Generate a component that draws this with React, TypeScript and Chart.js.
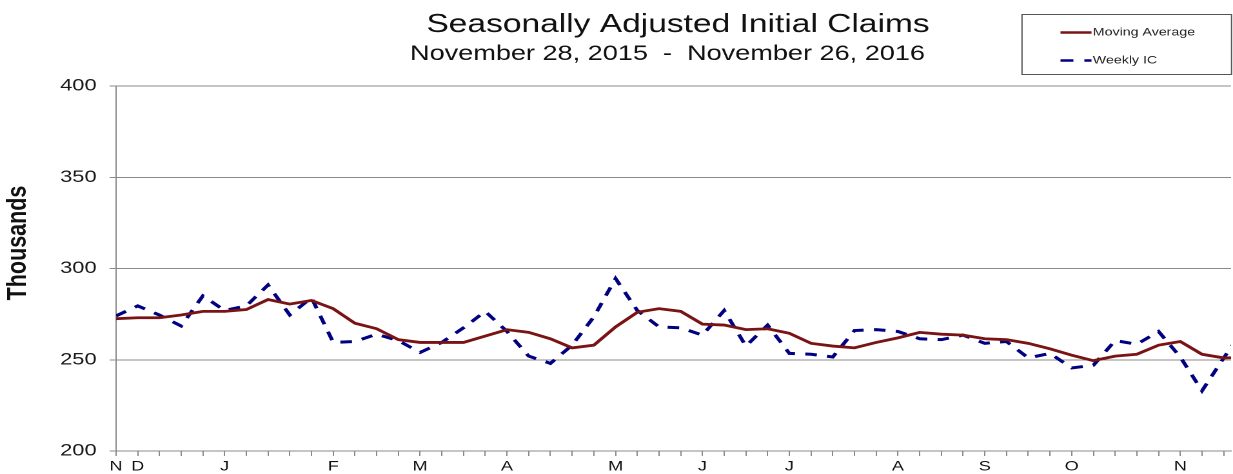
import { useEffect, useRef } from 'react';
import { Chart, registerables } from 'chart.js';

Chart.register(...registerables);

// ---- data (weeks from Nov 28, 2015 to Nov 26, 2016, thousands) ----
const WEEK_COUNT = 53;
const MOVING_AVERAGE = [
  272.5, 273, 273, 274.5, 276.5, 276.5, 277.5, 283, 280.5, 282.5,
  278, 270, 267, 261, 259.5, 259.5, 259.5, 263, 266.5, 265,
  261.5, 256.5, 258, 268, 276, 278, 276.5, 269.5, 269, 266.5,
  267, 264.5, 259, 257.5, 256.5, 259.5, 262, 265, 264, 263.5,
  261.5, 261, 259, 256, 252.5, 249.5, 252, 253, 258, 260,
  253, 251, 251.25,
];
const WEEKLY_IC = [
  274, 279.5, 274.5, 268.5, 285, 277, 279.5, 291, 274.5, 284,
  259.5, 260, 264, 260.5, 254, 259.5, 267.5, 276.5, 265.5, 252,
  248, 258, 273.5, 294.5, 277, 268, 267.5, 263.5, 277, 257.5,
  269, 253.5, 253, 251.5, 266, 266.5, 265.5, 261.5, 261, 263.5,
  259, 260, 251, 253.5, 245.5, 247, 260.5, 258.5, 265.5, 251.5,
  233, 251, 268,
];
const MONTH_TICK_WEEKS = [0, 1, 5, 10, 14, 18, 23, 27, 31, 36, 40, 44, 49];
const MONTH_TICK_LABELS = ['N', 'D', 'J', 'F', 'M', 'A', 'M', 'J', 'J', 'A', 'S', 'O', 'N'];
const Y_TICKS = [200, 250, 300, 350, 400];
const SERIES_NAMES = ['Moving Average', 'Weekly IC'];
const TITLE = 'Seasonally Adjusted Initial Claims';
const SUBTITLE = 'November 28, 2015  -  November 26, 2016';
const Y_TITLE = 'Thousands';

// ---- layout / style ----
const STRETCH = 1233 / 956;
const LOGICAL_W = 956;
const H = 474;
const FONT = "'Liberation Sans', Arial, Helvetica, sans-serif";
const MA_COLOR = '#7a1414';
const IC_COLOR = '#000080';
const AXIS_COLOR = '#8a8a8a';
const PLOT_LEFT = 116 / STRETCH;
const PLOT_RIGHT_PAD = LOGICAL_W - 1231 / STRETCH;
const WEEK_PX = 21.72 / STRETCH;
const X_MAX = (LOGICAL_W - PLOT_RIGHT_PAD - PLOT_LEFT) / WEEK_PX;

const decorPlugin = {
  id: 'decor',
  afterDraw(chart: any) {
    const ctx: CanvasRenderingContext2D = chart.ctx;
    ctx.save();
    ctx.fillStyle = '#111';
    ctx.textAlign = 'center';
    ctx.textBaseline = 'alphabetic';
    ctx.font = `26px ${FONT}`;
    ctx.fillText(TITLE, 678 / STRETCH, 32);
    ctx.font = `21px ${FONT}`;
    ctx.fillText(SUBTITLE, 667.5 / STRETCH, 60);

    // y-axis title
    ctx.save();
    ctx.translate(18 / STRETCH, 243);
    ctx.rotate(-Math.PI / 2);
    ctx.font = `bold 21.5px ${FONT}`;
    ctx.textBaseline = 'middle';
    ctx.fillText(Y_TITLE, 0, 0);
    ctx.restore();

    // legend box
    const bx0 = 1022 / STRETCH;
    const bx1 = 1231.5 / STRETCH;
    ctx.strokeStyle = '#555';
    ctx.lineWidth = 1;
    ctx.strokeRect(bx0, 14.5, bx1 - bx0, 60);
    const lx0 = 1060.5 / STRETCH;
    const lx1 = 1091.5 / STRETCH;
    const rows = [
      { y: 32.5, color: MA_COLOR, dash: [] as number[] },
      { y: 60.5, color: IC_COLOR, dash: [10, 8.5] },
    ];
    ctx.font = `11px ${FONT}`;
    ctx.textAlign = 'left';
    ctx.textBaseline = 'middle';
    rows.forEach((r, i) => {
      ctx.beginPath();
      ctx.setLineDash(r.dash);
      ctx.strokeStyle = r.color;
      ctx.lineWidth = 2.5;
      ctx.moveTo(lx0, r.y);
      ctx.lineTo(lx1, r.y);
      ctx.stroke();
      ctx.setLineDash([]);
      ctx.fillStyle = '#222';
      ctx.fillText(SERIES_NAMES[i], lx1 + 1, r.y);
    });
    ctx.restore();
  },
};

export default function App() {
  const ref = useRef<HTMLCanvasElement>(null);
  useEffect(() => {
    const canvas = ref.current;
    if (!canvas) return;
    const weeks = Array.from({ length: WEEK_COUNT }, (_, i) => i);
    const chart = new Chart(canvas, {
      type: 'line',
      data: {
        datasets: [
          {
            label: SERIES_NAMES[0],
            data: MOVING_AVERAGE.map((v, i) => ({ x: weeks[i], y: v })),
            borderColor: MA_COLOR,
            borderWidth: 2.8,
            pointRadius: 0,
            tension: 0,
          },
          {
            label: SERIES_NAMES[1],
            data: WEEKLY_IC.map((v, i) => ({ x: weeks[i], y: v })),
            borderColor: IC_COLOR,
            borderWidth: 3,
            borderDash: [9, 8],
            pointRadius: 0,
            tension: 0,
          },
        ],
      },
      options: {
        animation: false,
        responsive: true,
        maintainAspectRatio: false,
        devicePixelRatio: 2,
        layout: { padding: { top: 86, right: PLOT_RIGHT_PAD, bottom: 0, left: 0 } },
        plugins: {
          legend: { display: false },
          title: { display: false },
          tooltip: { enabled: false },
        },
        scales: {
          x: {
            type: 'linear',
            min: 0,
            max: X_MAX,
            afterBuildTicks: (scale: any) => {
              scale.ticks = weeks.slice(0, 52).map((v) => ({ value: v }));
            },
            afterFit: (scale: any) => {
              scale.height = 23;
            },
            ticks: {
              autoSkip: false,
              maxRotation: 0,
              padding: 2,
              color: '#111',
              font: { family: FONT, size: 14 },
              callback: (v: any) => {
                const idx = MONTH_TICK_WEEKS.indexOf(Number(v));
                return idx >= 0 ? MONTH_TICK_LABELS[idx] : '';
              },
            },
            grid: { drawOnChartArea: false, drawTicks: true, tickLength: 5, color: AXIS_COLOR },
            border: { display: true, color: AXIS_COLOR, width: 1 },
          },
          y: {
            min: 200,
            max: 400,
            afterBuildTicks: (scale: any) => {
              scale.ticks = Y_TICKS.map((v) => ({ value: v }));
            },
            afterFit: (scale: any) => {
              scale.width = PLOT_LEFT;
            },
            ticks: {
              padding: 10,
              color: '#1a1a1a',
              font: { family: FONT, size: 17 },
            },
            grid: { color: AXIS_COLOR, tickLength: 5, drawTicks: true },
            border: { display: true, color: AXIS_COLOR, width: 1 },
          },
        },
      },
      plugins: [decorPlugin],
    } as any);
    return () => chart.destroy();
  }, []);

  return (
    <div
      style={{
        position: 'fixed',
        left: 0,
        top: 0,
        width: 1233,
        height: H,
        overflow: 'hidden',
        background: '#fff',
      }}
    >
      <div
        style={{
          position: 'relative',
          width: LOGICAL_W,
          height: H,
          transform: `scaleX(${STRETCH})`,
          transformOrigin: '0 0',
        }}
      >
        <canvas ref={ref} />
      </div>
    </div>
  );
}
